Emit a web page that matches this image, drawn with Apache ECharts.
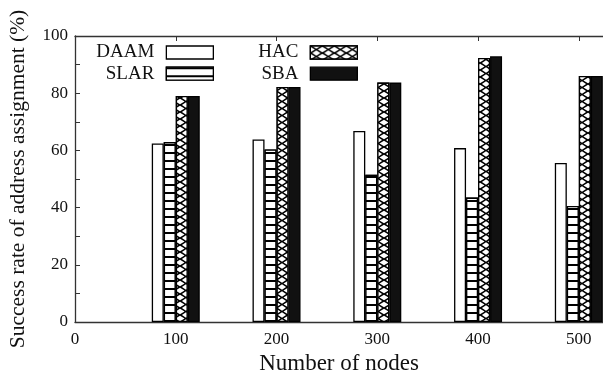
<!DOCTYPE html>
<html>
<head>
<meta charset="utf-8">
<script src="https://cdn.jsdelivr.net/npm/echarts@6/dist/echarts.min.js"></script>
<style>
  html, body { margin: 0; padding: 0; background: #fff; }
  #chart { width: 603px; height: 373px; }
</style>
</head>
<body>
<div id="chart"></div>
<script>
// ---- data ----
const nodeCounts = [100, 200, 300, 400, 500];
const daamValues = [62.4, 63.8, 66.8, 60.8, 55.6];
const slarValues = [62.9, 60.3, 51.5, 43.5, 40.6];
const hacValues  = [79.0, 82.2, 83.7, 92.3, 86.0];
const sbaValues  = [79.0, 82.2, 83.7, 92.9, 86.0];
const seriesNames = ['DAAM', 'SLAR', 'HAC', 'SBA'];
const xTickLabels = [0, 100, 200, 300, 400, 500];
const yTickLabels = [0, 20, 40, 60, 80, 100];
const xTitle = 'Number of nodes';
const yTitle = 'Success rate of address assignment (%)';

// ---- styles ----
const FONT = '"Liberation Serif", "Times New Roman", serif';
const INK = '#111';
const hLines = {
  symbol: 'rect', symbolSize: 1, symbolKeepAspect: false,
  dashArrayX: [12, 0], dashArrayY: [1.3, 5.9],
  color: '#000', backgroundColor: '#fff'
};
const xPattern = {
  symbol: 'path://M0,0L16,0L50,40L84,0L100,0L100,10L62,50L100,90L100,100L84,100L50,60L16,100L0,100L0,90L38,50L0,10Z',
  symbolSize: 1, symbolKeepAspect: false,
  dashArrayX: [12, 0], dashArrayY: [7, 0],
  color: '#000', backgroundColor: '#fff'
};
const styles = {
  DAAM: { color: '#fff', borderColor: '#000', borderWidth: 1.3 },
  SLAR: { color: '#fff', borderColor: '#000', borderWidth: 1.3, decal: hLines },
  HAC:  { color: '#fff', borderColor: '#000', borderWidth: 1.3, decal: xPattern },
  SBA:  { color: '#111', borderColor: '#000', borderWidth: 1.3 }
};
const valuesByName = { DAAM: daamValues, SLAR: slarValues, HAC: hacValues, SBA: sbaValues };

const series = seriesNames.map(name => ({
  name: name,
  type: 'bar',
  xAxisIndex: 0,
  barWidth: 12,
  barGap: '0%',
  itemStyle: styles[name],
  emphasis: { disabled: true },
  data: nodeCounts.map((n, i) => [n, valuesByName[name][i]])
}));

const legendBase = {
  orient: 'vertical', align: 'right', icon: 'rect',
  itemWidth: 47, itemHeight: 13, padding: 0, selectedMode: false,
  itemStyle: { borderColor: '#000', borderWidth: 1.3 },
  textStyle: { fontFamily: FONT, fontSize: 19, color: INK, lineHeight: 20, padding: [0, 7, 0, 0] }
};
const legendPos = {
  DAAM: { right: 389, top: 42.5 },
  SLAR: { right: 389, top: 63.7 },
  HAC:  { right: 245, top: 42.5 },
  SBA:  { right: 245, top: 63.7 }
};

const axisLineStyle = { lineStyle: { color: '#333', width: 1.3 } };

const option = {
  animation: false,
  backgroundColor: '#fff',
  grid: { left: 75, right: 0, top: 36, bottom: 51, containLabel: false, outerBoundsMode: 'none' },
  legend: seriesNames.map(n => Object.assign({ data: [n] }, legendBase, legendPos[n])),
  xAxis: [
    {
      type: 'value', position: 'bottom', min: 0, max: 524, interval: 100,
      axisLine: axisLineStyle,
      axisTick: { inside: true, length: 5, lineStyle: { color: '#333' } },
      splitLine: { show: false },
      axisLabel: {
        fontFamily: FONT, fontSize: 17, color: INK, margin: 9,
        formatter: v => (xTickLabels.indexOf(v) >= 0 ? String(v) : '')
      },
      name: xTitle, nameLocation: 'middle', nameGap: 30,
      nameTextStyle: { fontFamily: FONT, fontSize: 23, color: INK }
    },
    {
      type: 'value', position: 'top', min: 0, max: 524, interval: 100,
      axisLine: axisLineStyle,
      axisTick: { inside: true, length: 5, lineStyle: { color: '#333' } },
      splitLine: { show: false },
      axisLabel: { show: false }
    }
  ],
  yAxis: {
    type: 'value', min: 0, max: 100, interval: 10,
    axisLine: { show: true, lineStyle: { color: '#333', width: 1.3 } },
    axisTick: { show: true, inside: true, length: 5, lineStyle: { color: '#333' } },
    splitLine: { show: false },
    axisLabel: {
      fontFamily: FONT, fontSize: 17, color: INK, margin: 7,
      formatter: v => (yTickLabels.indexOf(v) >= 0 ? String(v) : '')
    },
    name: yTitle, nameLocation: 'middle', nameRotate: 90, nameGap: 46,
    nameTextStyle: { fontFamily: FONT, fontSize: 21.5, color: INK }
  },
  series: series
};

const chart = echarts.init(document.getElementById('chart'), null, { renderer: 'canvas' });
chart.setOption(option);
</script>
</body>
</html>
